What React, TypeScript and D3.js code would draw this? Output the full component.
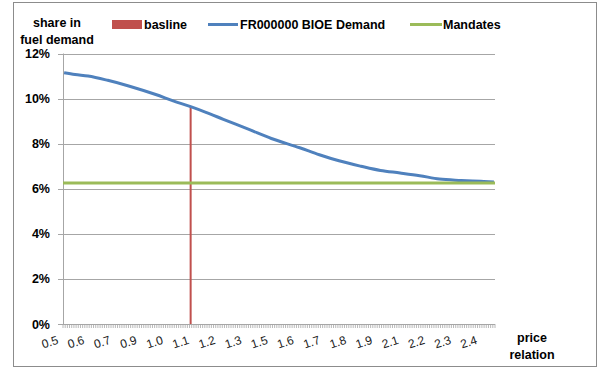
import React from 'react';
import * as d3 from 'd3';

// category axis: price relation 0.50 .. 2.47 (step 0.01)
const categories: string[] = d3.range(50, 248).map((v) => (v / 100).toFixed(2));
const labelEvery = 12;

// FR000000 BIOE Demand (read at sample price relations)
const bioePrice = [0.5, 0.55, 0.61, 0.7, 0.8, 0.92, 1.0, 1.08, 1.15, 1.23, 1.35, 1.45, 1.58, 1.67, 1.76, 1.86, 1.95, 2.04, 2.13, 2.22, 2.32, 2.41, 2.47];
const bioeShare = [0.1115, 0.1107, 0.11, 0.1081, 0.1055, 0.1018, 0.099, 0.0964, 0.0939, 0.0908, 0.0862, 0.0823, 0.0782, 0.0751, 0.0724, 0.07, 0.0681, 0.067, 0.0658, 0.0643, 0.0637, 0.0633, 0.063];

// Mandates (constant)
const mandateShare = 0.0625;

// basline
const baselinePrice = '1.08';
const baselineShare = 0.0964;

const yTicks = [0, 0.02, 0.04, 0.06, 0.08, 0.1, 0.12];

const FONT = "'Liberation Sans', Arial, sans-serif";
const BLUE = '#4f81bd';
const RED = '#c0504d';
const GREEN = '#9bbb59';
const GRID = '#a6a6a6';

export default function App() {
  const left = 63;
  const right = 495;
  const top = 53.5;
  const bottom = 324;

  const x = d3.scaleBand<string>().domain(categories).range([left, right]).paddingInner(0).paddingOuter(0);
  const bw = x.bandwidth();
  const y = d3.scaleLinear().domain([0, 0.12]).range([bottom, top]);
  const xc = (c: string) => (x(c) as number) + bw / 2;
  const xp = (p: number) => xc(p.toFixed(2));

  const line = d3
    .line<number>()
    .x((_, i) => xp(bioePrice[i]))
    .y((d) => y(d))
    .curve(d3.curveMonotoneX);

  const tickXs = d3.range(categories.length + 1).map((k) => left + k * bw);

  return (
    <div>
      <style>{`body{margin:0}`}</style>
      <svg width={600} height={369} style={{ display: 'block', fontFamily: FONT }}>
        <rect x={0} y={0} width={600} height={369} fill="#fff" />
        <rect x={13.5} y={2.5} width={583} height={364} fill="none" stroke="#8c8c8c" strokeWidth={1} />

        {/* gridlines */}
        {yTicks.map((t) => (
          <line key={'g' + t} x1={left} x2={right} y1={Math.round(y(t)) + 0.5} y2={Math.round(y(t)) + 0.5} stroke={GRID} strokeWidth={1} />
        ))}
        {/* y axis */}
        <line x1={left + 0.5} x2={left + 0.5} y1={top} y2={bottom} stroke={GRID} />
        {yTicks.map((t) => (
          <line key={'yt' + t} x1={left - 5} x2={left} y1={Math.round(y(t)) + 0.5} y2={Math.round(y(t)) + 0.5} stroke={GRID} />
        ))}
        {yTicks.map((t) => (
          <text key={'yl' + t} x={50} y={y(t) + 4.5} textAnchor="end" fontSize={12.5} fontWeight="bold" fill="#000">
            {d3.format('.0%')(t)}
          </text>
        ))}

        {/* x axis ticks */}
        {tickXs.map((tx, k) => (
          <line key={'xt' + k} x1={tx} x2={tx} y1={bottom} y2={bottom + 4} stroke={GRID} strokeWidth={0.8} />
        ))}
        <line x1={left} x2={right} y1={bottom + 0.5} y2={bottom + 0.5} stroke={GRID} />

        {/* x labels */}
        {categories.map((c, i) =>
          i % labelEvery === 0 ? (
            <text
              key={'xl' + c}
              transform={`translate(${xc(c) - 13},${bottom + 22}) rotate(-18)`}
              textAnchor="middle"
              fontSize={12}
              fill="#222"
            >
              {(+c).toFixed(1)}
            </text>
          ) : null
        )}

        {/* basline bar */}
        <rect x={xc(baselinePrice) - 1} y={y(baselineShare)} width={2} height={bottom - y(baselineShare)} fill={RED} />

        {/* BIOE demand line */}
        <path d={line(bioeShare) || ''} fill="none" stroke={BLUE} strokeWidth={3} strokeLinejoin="round" />

        {/* Mandates line */}
        <line x1={left} x2={right} y1={y(mandateShare)} y2={y(mandateShare)} stroke={GREEN} strokeWidth={3} />

        {/* axis titles */}
        <text x={57} y={27} textAnchor="middle" fontSize={12.5} fontWeight="bold">share in</text>
        <text x={57} y={44} textAnchor="middle" fontSize={12.5} fontWeight="bold">fuel demand</text>
        <text x={532} y={342} textAnchor="middle" fontSize={12.5} fontWeight="bold">price</text>
        <text x={532} y={359} textAnchor="middle" fontSize={12.5} fontWeight="bold">relation</text>

        {/* legend */}
        <rect x={112} y={20} width={30} height={9} fill={RED} />
        <text x={144} y={28.5} fontSize={12.5} fontWeight="bold">basline</text>
        <line x1={208} x2={238} y1={24.5} y2={24.5} stroke={BLUE} strokeWidth={3} />
        <text x={240} y={28.5} fontSize={12.5} fontWeight="bold">FR000000 BIOE Demand</text>
        <line x1={410} x2={442} y1={24.5} y2={24.5} stroke={GREEN} strokeWidth={3} />
        <text x={443} y={28.5} fontSize={12.5} fontWeight="bold">Mandates</text>
      </svg>
    </div>
  );
}
